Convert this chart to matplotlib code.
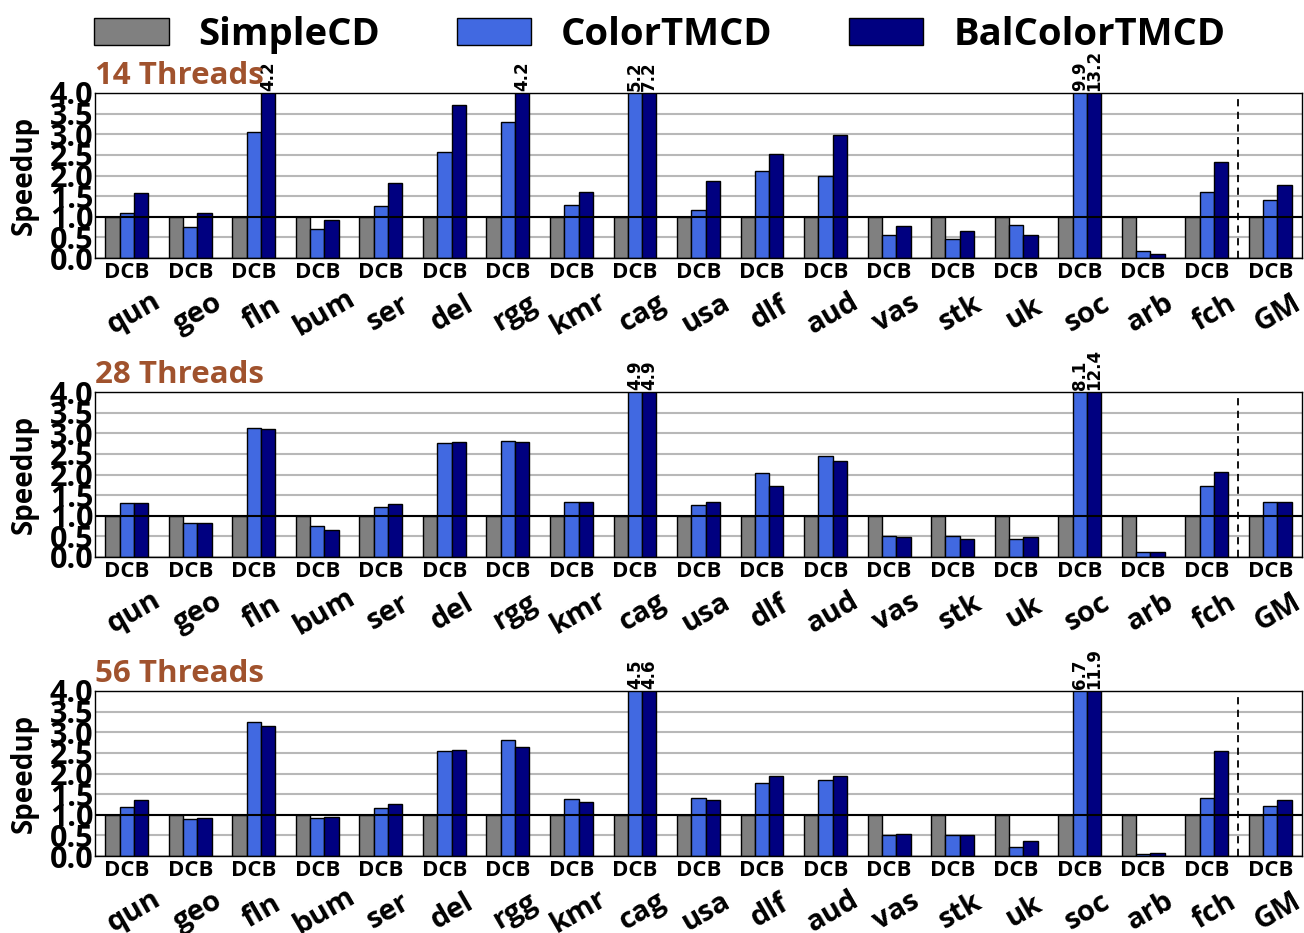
import matplotlib
matplotlib.use("Agg")
import matplotlib.pyplot as plt
import matplotlib.transforms as mtransforms
import numpy as np

plt.rcParams['font.family'] = ['Open Sans', 'DejaVu Sans']
plt.rcParams['font.weight'] = 'bold'

categories = ["qun", "geo", "fln", "bum", "ser", "del", "rgg", "kmr", "cag", "usa",
              "dlf", "aud", "vas", "stk", "uk", "soc", "arb", "fch", "GM"]
sub_label = "DCB"
series_names = ["SimpleCD", "ColorTMCD", "BalColorTMCD"]
panel_titles = ["14 Threads", "28 Threads", "56 Threads"]

simple_14 = [1.0] * 19
color_14 = [1.10, 0.75, 3.06, 0.71, 1.25, 2.58, 3.30, 1.28, 5.2, 1.17,
            2.11, 1.98, 0.56, 0.47, 0.81, 9.9, 0.18, 1.59, 1.40]
bal_14 = [1.58, 1.10, 4.2, 0.91, 1.81, 3.72, 4.2, 1.61, 7.2, 1.87,
          2.53, 2.99, 0.77, 0.66, 0.55, 13.2, 0.10, 2.32, 1.77]

simple_28 = [1.0] * 19
color_28 = [1.32, 0.83, 3.12, 0.76, 1.21, 2.76, 2.81, 1.33, 4.9, 1.27,
            2.03, 2.45, 0.50, 0.50, 0.43, 8.1, 0.13, 1.73, 1.34]
bal_28 = [1.30, 0.82, 3.11, 0.65, 1.28, 2.79, 2.79, 1.33, 4.9, 1.34,
          1.73, 2.32, 0.48, 0.44, 0.48, 12.4, 0.11, 2.05, 1.34]

simple_56 = [1.0] * 19
color_56 = [1.18, 0.90, 3.26, 0.92, 1.16, 2.55, 2.81, 1.37, 4.5, 1.41,
            1.78, 1.84, 0.51, 0.51, 0.22, 6.7, 0.06, 1.41, 1.21]
bal_56 = [1.35, 0.92, 3.14, 0.95, 1.26, 2.58, 2.64, 1.31, 4.6, 1.36,
          1.94, 1.94, 0.53, 0.51, 0.37, 11.9, 0.07, 2.55, 1.36]

panels = [(simple_14, color_14, bal_14),
          (simple_28, color_28, bal_28),
          (simple_56, color_56, bal_56)]

colors = ["#808080", "#4169E1", "#000080"]
title_color = "#A0522D"
yticks = [0.0, 0.5, 1.0, 1.5, 2.0, 2.5, 3.0, 3.5, 4.0]
ymax = 4.0

W, H = 1304, 933
fig = plt.figure(figsize=(W / 100, H / 100), dpi=100)

# axes pixel positions (top, bottom)
axes_px = [(93, 258), (392, 557), (691, 856)]
left_px, right_px = 95, 1302

bw = 0.225
x = np.arange(len(categories))
handles = None
for (top, bot), vals, title in zip(axes_px, panels, panel_titles):
    ax = fig.add_axes([left_px / W, 1 - bot / H, (right_px - left_px) / W, (bot - top) / H])
    ax.set_axisbelow(True)
    for yt in yticks:
        ax.axhline(yt, color="#b8b8b8", lw=1.5, zorder=0)
    bars = []
    for k, (v, c) in enumerate(zip(vals, colors)):
        b = ax.bar(x + (k - 1) * bw, v, width=bw, color=c, edgecolor="black",
                   linewidth=1.0, zorder=2, label=series_names[k])
        bars.append(b)
        if k > 0:
            for xi, vi in zip(x, v):
                if vi > ymax:
                    ax.text(xi + (k - 1) * bw, ymax + 0.05, f"{vi:.1f}", rotation=90,
                            ha="center", va="bottom", fontsize=12, fontweight="bold",
                            family="DejaVu Sans", clip_on=False)
    handles = bars
    ax.axhline(1.0, color="black", lw=1.5, zorder=3)
    ax.axvline(len(categories) - 1.5, color="black", lw=1.3, ls=(0, (4, 3)), zorder=3)
    ax.set_xlim(-0.5, len(categories) - 0.5)
    ax.set_ylim(0, ymax)
    ax.set_yticks(yticks)
    ax.set_yticklabels([f"{t:.1f}" for t in yticks], fontsize=22, fontweight="bold")
    ax.set_xticks(x)
    ax.set_xticklabels([sub_label] * len(categories), fontsize=16, fontweight="bold")
    ax.tick_params(axis="both", length=0)
    ax.tick_params(axis="y", pad=1)
    ax.tick_params(axis="x", pad=3)
    ax.set_ylabel("Speedup", fontsize=20, fontweight="bold", labelpad=8)
    for s in ax.spines.values():
        s.set_linewidth(1.0)
    trans = mtransforms.blended_transform_factory(ax.transData, ax.transAxes)
    for xi, name in zip(x, categories):
        ax.text(xi + 0.12, -0.335, name, transform=trans, rotation=30,
                ha="center", va="center", rotation_mode="anchor",
                fontsize=21, fontweight="bold")
    ax.text(0.0, 1.015, title, transform=ax.transAxes, ha="left", va="bottom",
            fontsize=22.5, fontweight="bold", color=title_color)

fig.legend([h[0] for h in handles], series_names, loc="upper center",
           bbox_to_anchor=(0.506, 1.02), ncol=3, frameon=False,
           prop={"size": 27.5, "weight": "bold"},
           handlelength=1.95, handleheight=0.71, handletextpad=0.78,
           columnspacing=2.0)

fig.savefig("out.png", dpi=100)
